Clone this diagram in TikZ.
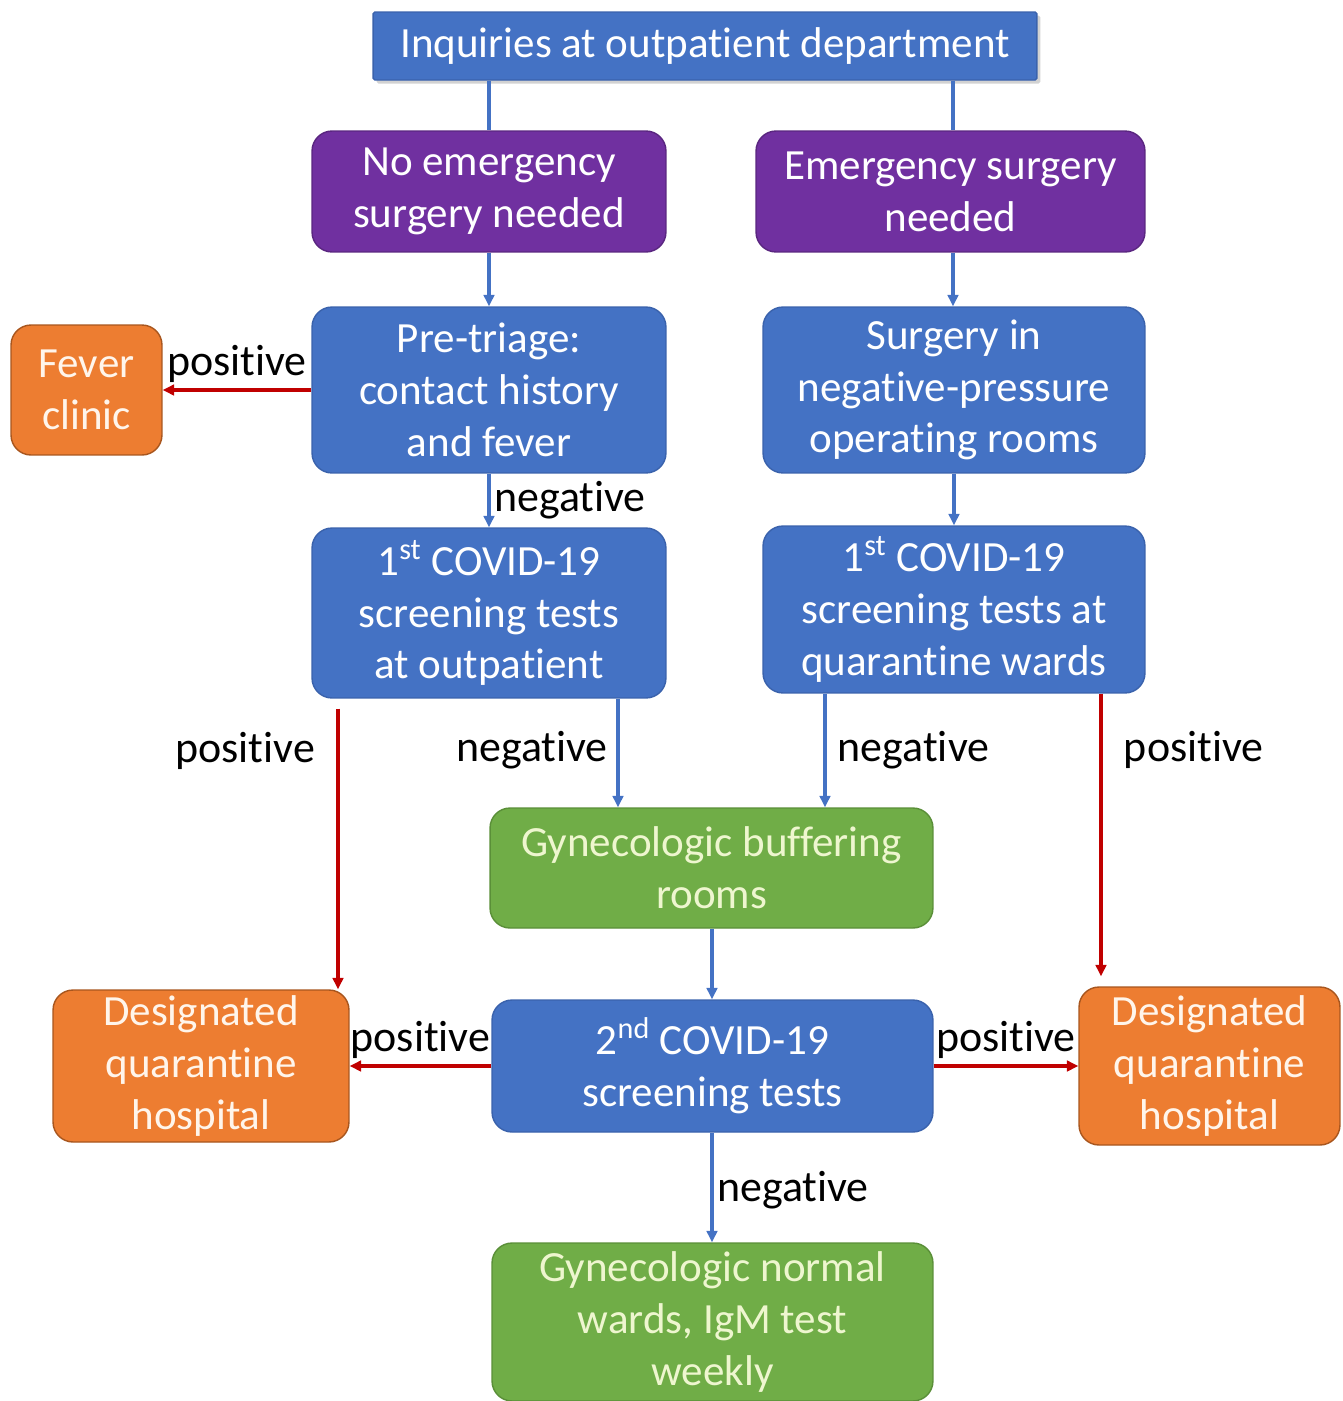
\documentclass[tikz,border=0pt]{standalone}
\usepackage{fontspec}
\setmainfont{Carlito}[Ligatures=CommonOff]
\usetikzlibrary{arrows.meta,shadows}
\definecolor{boxblue}{HTML}{4472C4}
\definecolor{boxblueline}{HTML}{3A62AC}
\definecolor{boxpurple}{HTML}{7030A0}
\definecolor{boxorange}{HTML}{ED7D31}
\definecolor{boxorangeline}{HTML}{A8561E}
\definecolor{boxgreen}{HTML}{70AD47}
\definecolor{boxgreenline}{HTML}{5A8F38}
\definecolor{greentext}{HTML}{EEF6CF}
\definecolor{arrred}{HTML}{C00000}
\begin{document}
\begin{tikzpicture}[x=0.02cm,y=-0.02cm,
  base/.style={rounded corners=0.4cm, align=center, inner sep=0pt, line width=0.8pt,
    font=\fontsize{24.5}{29.5}\selectfont, text=white},
  bluebox/.style={base, fill=boxblue, draw=boxblueline},
  purplebox/.style={base, fill=boxpurple, draw=boxpurple!80!black},
  orangebox/.style={base, fill=boxorange, draw=boxorangeline, text=white!92!orange},
  greenbox/.style={base, fill=boxgreen, draw=boxgreenline, text=greentext},
  topbox/.style={base, rounded corners=1pt, fill=boxblue, draw=boxblueline,
    drop shadow={shadow xshift=2pt, shadow yshift=-2pt, fill=black!35, opacity=0.5}},
  blueline/.style={draw=boxblue, line width=2pt},
  bluearr/.style={blueline, -{Triangle[length=6.5pt,width=6pt]}},
  redarr/.style={draw=arrred, line width=2.2pt, -{Triangle[length=6.5pt,width=6pt]}},
  lbl/.style={font=\fontsize{25}{29}\selectfont, text=black, inner sep=2pt}
]
\useasboundingbox (0,0) rectangle (1343,1401);

% nodes
\node[topbox, minimum width=13.28cm, minimum height=1.36cm] (top) at (705,46) {Inquiries at outpatient department};
\node[purplebox, minimum width=7.08cm, minimum height=2.42cm] (noem) at (489,191.5) {No emergency\\surgery needed};
\node[purplebox, minimum width=7.78cm, minimum height=2.42cm] (em) at (950.5,191.5) {Emergency surgery\\needed};
\node[bluebox, minimum width=7.08cm, minimum height=3.32cm] (pre) at (489,390) {Pre-triage:\\contact history\\and fever};
\node[bluebox, minimum width=7.64cm, minimum height=3.32cm] (surg) at (954,390) {Surgery in\\negative-pressure\\operating rooms};
\node[orangebox, minimum width=3.02cm, minimum height=2.6cm] (fever) at (86.5,390) {Fever\\clinic};
\node[bluebox, minimum width=7.08cm, minimum height=3.4cm] (firstl) at (489,613) {1\textsuperscript{st} COVID-19\\screening tests\\at outpatient};
\node[bluebox, minimum width=7.64cm, minimum height=3.34cm] (firstr) at (954,609.5) {1\textsuperscript{st} COVID-19\\screening tests at\\quarantine wards};
\node[greenbox, minimum width=8.86cm, minimum height=2.4cm] (buf) at (711.5,868) {Gynecologic buffering\\rooms};
\node[bluebox, minimum width=8.82cm, minimum height=2.64cm] (second) at (712.5,1066) {2\textsuperscript{nd} COVID-19\\screening tests};
\node[orangebox, minimum width=5.92cm, minimum height=3.04cm] (desl) at (201,1066) {Designated\\quarantine\\hospital};
\node[orangebox, minimum width=5.22cm, minimum height=3.16cm] (desr) at (1209.5,1066) {Designated\\quarantine\\hospital};
\node[greenbox, minimum width=8.82cm, minimum height=3.16cm] (normal) at (712.5,1322) {Gynecologic normal\\wards, IgM test\\weekly};

% connectors
\draw[blueline] (top.south -| noem.north) -- (noem.north);
\draw[blueline] (top.south -| 953,0) -- (em.north -| 953,0);
\draw[bluearr] (noem.south) -- (pre.north);
\draw[bluearr] (em.south -| 953,0) -- (surg.north -| 953,0);
\draw[redarr] (pre.west) -- node[lbl, above=1pt] {positive} (fever.east);
\draw[bluearr] (pre.south) -- node[lbl, right, pos=0.5] {negative} (firstl.north);
\draw[bluearr] (surg.south) -- (firstr.north);
\draw[redarr] ([yshift=-0.2cm]firstl.south -| 338,0) -- node[lbl, left=0.35cm, pos=0.15] {positive} (desl.north -| 338,0);
\draw[bluearr] (firstl.south -| 618,0) -- node[lbl, left=0.1cm, pos=0.47] {negative} (buf.north -| 618,0);
\draw[bluearr] (firstr.south -| 825,0) -- node[lbl, right=0.15cm, pos=0.5] {negative} (buf.north -| 825,0);
\draw[redarr] (firstr.south -| 1101,0) -- node[lbl, right=0.35cm, pos=0.2] {positive} ([yshift=0.2cm]desr.north -| 1101,0);
\draw[bluearr] (buf.south -| 712,0) -- (second.north -| 712,0);
\draw[redarr] (second.west) -- node[lbl, above=1pt] {positive} (desl.east);
\draw[redarr] (second.east) -- node[lbl, above=1pt] {positive} (desr.west);
\draw[bluearr] (second.south -| 712,0) -- node[lbl, right=0pt, pos=0.52] {negative} (normal.north -| 712,0);
\end{tikzpicture}
\end{document}
